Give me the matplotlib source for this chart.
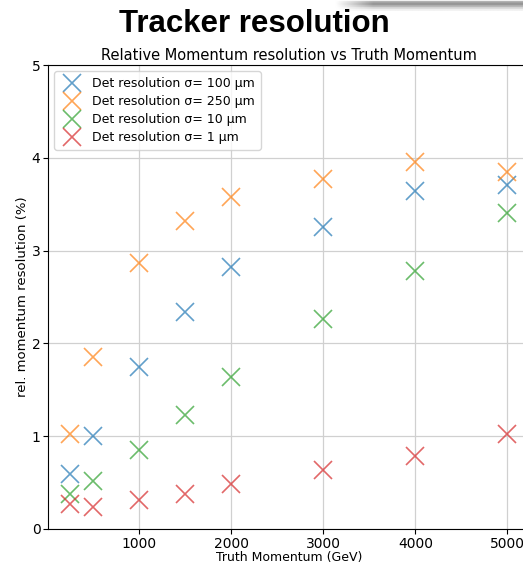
import numpy as np
import matplotlib.pyplot as plt

# Truth momentum points (GeV)
momentum = [250, 500, 1000, 1500, 2000, 3000, 4000, 5000]

# relative momentum resolution (%) per detector resolution
res_100um = [0.59, 1.00, 1.75, 2.34, 2.82, 3.25, 3.64, 3.71]
res_250um = [1.02, 1.85, 2.87, 3.32, 3.58, 3.77, 3.96, 3.85]
res_10um = [0.38, 0.52, 0.85, 1.23, 1.64, 2.26, 2.78, 3.41]
res_1um = [0.27, 0.24, 0.31, 0.38, 0.48, 0.64, 0.79, 1.02]

labels = ['Det resolution σ= 100 μm', 'Det resolution σ= 250 μm',
          'Det resolution σ= 10 μm', 'Det resolution σ= 1 μm']
series = [res_100um, res_250um, res_10um, res_1um]
colors = ['#1f77b4', '#ff7f0e', '#2ca02c', '#d62728']

fig = plt.figure(figsize=(5.23, 5.63), dpi=100)
ax = fig.add_axes([0.092, 0.0604, 0.920, 0.824])

for vals, lab, col in zip(series, labels, colors):
    ax.plot(momentum, vals, 'x', color=col, ms=13, mew=1.2, alpha=0.7, label=lab)

ax.set_ylim(0, 5)
ax.set_xticks([1000, 2000, 3000, 4000, 5000])
ax.set_yticks([0, 1, 2, 3, 4, 5])
ax.grid(True, color='#d0d0d0', lw=0.9)
ax.set_axisbelow(True)
ax.tick_params(labelsize=10, pad=2)
ax.set_xlabel('Truth Momentum (GeV)', fontsize=9, labelpad=0)
ax.set_ylabel('rel. momentum resolution (%)', fontsize=9.5, labelpad=2)
ax.set_title('Relative Momentum resolution vs Truth Momentum', fontsize=10.5, pad=4)
ax.legend(loc='upper left', fontsize=9, handletextpad=0.6, borderpad=0.45,
          labelspacing=0.4, markerscale=1.05)

fig.text(0.486, 0.958, 'Tracker resolution', ha='center', va='center',
         fontsize=22.5, fontweight='bold', family='Liberation Sans')

# soft gray shadow from the screenshot at top right
shade = fig.add_axes([0.64, 0.98, 0.36, 0.02])
shade.axis('off')
rows = np.array([0.0, 0.35, 0.42, 0.3, 0.15, 0.05])[:, None]
cols = np.clip(np.linspace(0, 5, 200), 0, 1)[None, :]
shade.imshow(1 - rows * cols, cmap='gray', vmin=0, vmax=1, aspect='auto')

fig.savefig('out.png', dpi=100)
